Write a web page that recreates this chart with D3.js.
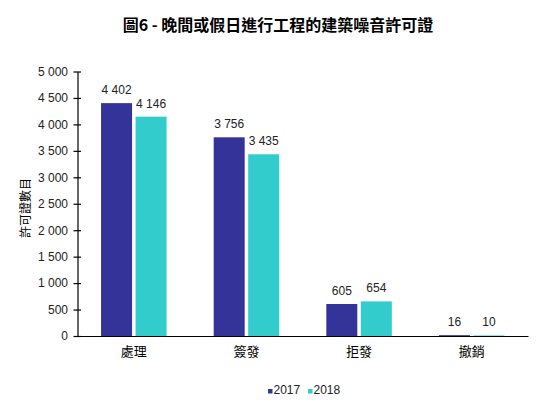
<!DOCTYPE html>
<html>
<head>
<meta charset="utf-8">
<script src="https://cdn.jsdelivr.net/npm/d3@7"></script>
<style>
  html, body { margin: 0; padding: 0; background: #fff; }
  svg { display: block; }
</style>
</head>
<body>
<svg id="chart" width="543" height="408"></svg>
<script>
const title = "圖6 - 晚間或假日進行工程的建築噪音許可證";
const yAxisTitle = "許可證數目";
const categories = ["處理", "簽發", "拒發", "撤銷"];
const seriesNames = ["2017", "2018"];
const values2017 = [4402, 3756, 605, 16];
const values2018 = [4146, 3435, 654, 10];
const yTicks = [0, 500, 1000, 1500, 2000, 2500, 3000, 3500, 4000, 4500, 5000];
const colors = ["#333399", "#33CCCC"];

const svg = d3.select("#chart");
const latin = "Arial, 'Liberation Sans', sans-serif";
const cjk = "Arial, 'Liberation Sans', 'Noto Sans CJK TC', sans-serif";

const x0 = d3.scaleBand().domain(categories).range([77.5, 528]).paddingInner(0).paddingOuter(0);
const y = d3.scaleLinear().domain([0, 5000]).range([336, 71.5]);
const barW = 31, gap = 3.5;
const x1 = d3.scaleOrdinal().domain(seriesNames).range([-gap / 2 - barW, gap / 2]);
const fmt = v => d3.format(",")(v).replace(/,/g, " ");

// title
svg.append("text")
  .attr("x", 278).attr("y", 31)
  .attr("text-anchor", "middle")
  .attr("font-family", "'Noto Sans CJK TC', sans-serif")
  .attr("font-weight", "bold")
  .attr("font-size", 16)
  .attr("fill", "#000")
  .text(title);

// y axis
const yAxis = d3.axisLeft(y).tickValues(yTicks).tickSize(0).tickFormat(fmt);
const gy = svg.append("g").attr("transform", "translate(77.5,0)").call(yAxis);
gy.select(".domain").attr("stroke", "#000").attr("stroke-width", 1.2);
gy.selectAll(".tick line").remove();
gy.selectAll(".tick").append("line").attr("x1", -4).attr("x2", 3.5).attr("stroke", "#000").attr("stroke-width", 1.2);
gy.selectAll(".tick text")
  .attr("x", -9.5)
  .attr("font-family", latin).attr("font-size", 12).attr("fill", "#222");

// y axis title
svg.append("text")
  .attr("transform", "translate(30,208) rotate(-90)")
  .attr("text-anchor", "middle")
  .attr("font-family", "'Noto Sans CJK TC', sans-serif")
  .attr("font-size", 12).attr("fill", "#000")
  .text(yAxisTitle);

// bars
const data = categories.map((c, i) => ({ c, vals: [values2017[i], values2018[i]] }));
const groups = svg.append("g").selectAll("g").data(data).join("g")
  .attr("transform", d => `translate(${x0(d.c) + x0.bandwidth() / 2},0)`);

groups.selectAll("rect").data(d => d.vals.map((v, k) => ({ v, k })))
  .join("rect")
  .attr("x", d => x1(seriesNames[d.k]))
  .attr("width", barW)
  .attr("y", d => y(d.v))
  .attr("height", d => y(0) - y(d.v))
  .attr("fill", d => colors[d.k]);

groups.selectAll("text.val").data(d => d.vals.map((v, k) => ({ v, k })))
  .join("text").attr("class", "val")
  .attr("x", d => x1(seriesNames[d.k]) + barW / 2)
  .attr("y", d => y(d.v) - 9)
  .attr("text-anchor", "middle")
  .attr("font-family", latin).attr("font-size", 12).attr("fill", "#222")
  .text(d => fmt(d.v));

// x axis
const xAxis = d3.axisBottom(x0).tickSize(0).tickSizeOuter(0);
const gx = svg.append("g").attr("transform", "translate(0,336)").call(xAxis);
gx.select(".domain").attr("stroke", "#000").attr("stroke-width", 1.2);
gx.selectAll(".tick text")
  .attr("y", 11)
  .attr("dy", "0.71em")
  .attr("font-family", cjk).attr("font-size", 13).attr("fill", "#000");

// legend
const legendX = [268, 308];
const lg = svg.append("g").selectAll("g").data(seriesNames).join("g")
  .attr("transform", (d, i) => `translate(${legendX[i]},388)`);
lg.append("rect").attr("width", 4.5).attr("height", 4.5).attr("y", 1).attr("fill", (d, i) => colors[i]);
lg.append("text").attr("x", 5.5).attr("y", 6)
  .attr("font-family", latin).attr("font-size", 12).attr("fill", "#222")
  .text(d => d);
</script>
</body>
</html>
